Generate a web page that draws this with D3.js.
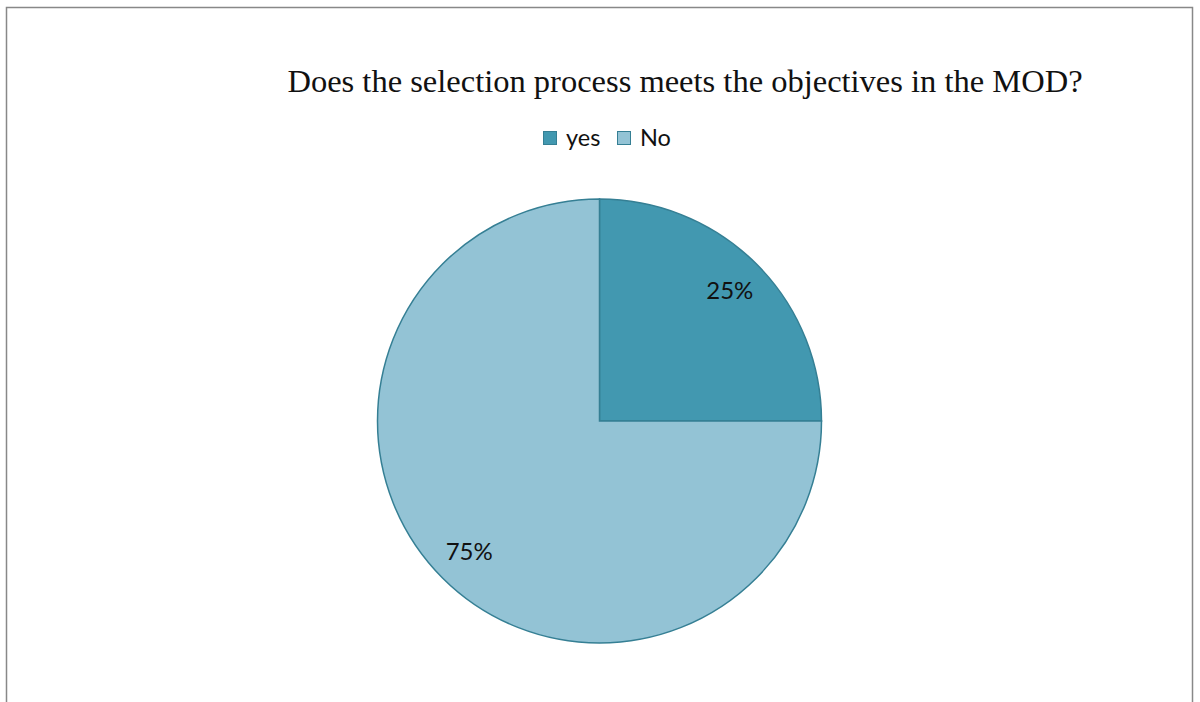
<!DOCTYPE html>
<html><head><meta charset="utf-8">
<script src="https://cdn.jsdelivr.net/npm/d3@7"></script>
<style>html,body{margin:0;padding:0;background:#fff;}</style>
</head><body>
<svg id="c" width="1200" height="702"></svg>
<script>
const title = "Does the selection process meets the objectives in the MOD?";
const categories = ["yes", "No"];
const values = [25, 75];
const labels = ["25%", "75%"];
const colors = ["#4298B0", "#93C3D5"];

const svg = d3.select("#c");
svg.append("rect").attr("x", 6.5).attr("y", 7.5).attr("width", 1186).attr("height", 720)
  .attr("fill", "#fff").attr("stroke", "#888").attr("stroke-width", 1.5);

svg.append("text").attr("x", 685).attr("y", 92).attr("text-anchor", "middle")
  .attr("font-family", "Liberation Serif, Times New Roman, serif").attr("font-size", 32.5)
  .attr("fill", "#111").text(title);

// legend
const leg = svg.append("g");
const legX = [543, 617];
categories.forEach((c, i) => {
  leg.append("rect").attr("x", legX[i] + 0.5).attr("y", 131.5).attr("width", 13).attr("height", 13)
    .attr("fill", colors[i]).attr("stroke", "#357F94").attr("stroke-width", 1);
  leg.append("text").attr("x", legX[i] + 23).attr("y", 146)
    .attr("font-family", "Lato, Open Sans, sans-serif").attr("font-size", 23.5)
    .attr("fill", "#111").text(c);
});

const cx = 599.5, cy = 421, r = 222;
const pie = d3.pie().sort(null).value(d => d)(values);
const arc = d3.arc().innerRadius(0).outerRadius(r);
const g = svg.append("g").attr("transform", `translate(${cx},${cy})`);
g.selectAll("path").data(pie).join("path")
  .attr("d", arc).attr("fill", (d, i) => colors[i])
  .attr("stroke", "#357F94").attr("stroke-width", 1.5);

const labelArc = d3.arc().innerRadius(r * 0.83).outerRadius(r * 0.83);
g.selectAll("text.l").data(pie).join("text").attr("class", "l")
  .attr("transform", d => `translate(${labelArc.centroid(d)})`)
  .attr("text-anchor", "middle").attr("dy", "0.35em")
  .attr("font-family", "Lato, Open Sans, sans-serif").attr("font-size", 24)
  .attr("fill", "#111").text((d, i) => labels[i]);
</script>
</body></html>
